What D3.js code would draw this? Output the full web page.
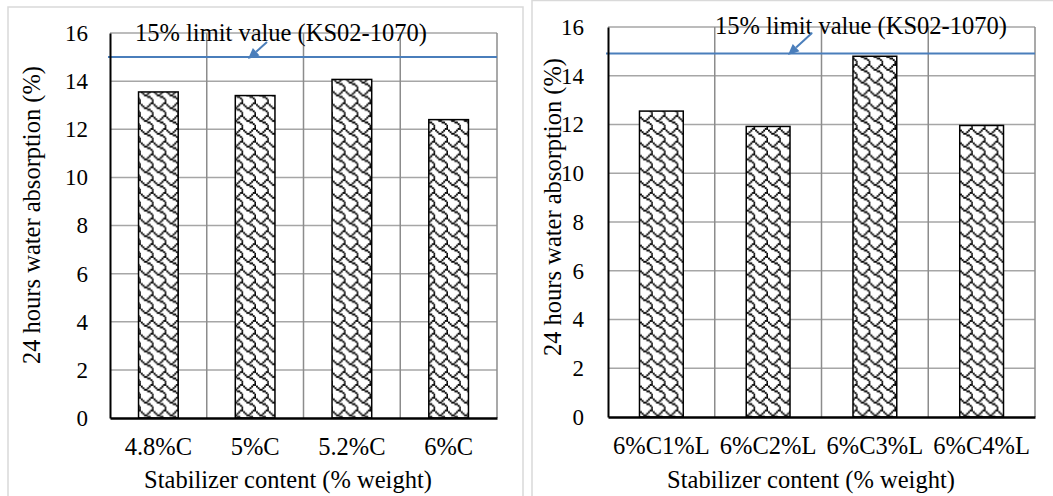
<!DOCTYPE html>
<html>
<head>
<meta charset="utf-8">
<script src="https://cdn.jsdelivr.net/npm/d3@7"></script>
<style>
  body { margin: 0; background: #fff; }
  svg text { font-family: "Liberation Serif", "Times New Roman", serif; fill: #000; }
</style>
</head>
<body>
<svg id="chart" width="1053" height="496"></svg>
<script>
//data
var leftCategories = ["4.8%C", "5%C", "5.2%C", "6%C"];
var leftValues = [13.55, 13.4, 14.07, 12.4];
var rightCategories = ["6%C1%L", "6%C2%L", "6%C3%L", "6%C4%L"];
var rightValues = [12.55, 11.92, 14.8, 11.96];
var yTicks = [0, 2, 4, 6, 8, 10, 12, 14, 16];
var limitValue = 15;
var limitLabel = "15% limit value (KS02-1070)";
var yTitle = "24 hours water absorption (%)";
var xTitle = "Stabilizer content (% weight)";

var serif = "'Liberation Serif', 'Times New Roman', serif";
var svg = d3.select("#chart");

//excel "shingle" hatch, 8x8 bits, drawn a bit bigger than 1:1
var shingleBits = [0x03, 0x84, 0x48, 0x30, 0x0c, 0x02, 0x01, 0x01];
var cell = 1.6;
var pattern = svg.append("defs")
  .append("pattern")
  .attr("id", "shingle")
  .attr("patternUnits", "userSpaceOnUse")
  .attr("width", 8 * cell)
  .attr("height", 8 * cell);
pattern.append("rect").attr("width", 8 * cell).attr("height", 8 * cell).attr("fill", "#fff");
for (var r = 0; r < 8; r++) {
  for (var c = 0; c < 8; c++) {
    if (shingleBits[r] & (0x80 >> c)) {
      pattern.append("rect")
        .attr("x", c * cell)
        .attr("y", r * cell)
        .attr("width", cell + 0.3)
        .attr("height", cell + 0.3)
        .attr("fill", "#000");
    }
  }
}

//draws one of the two panels
function drawChart(o) {
  var g = svg.append("g");

  //outer chart frame
  g.append("rect")
    .attr("x", o.frame[0]).attr("y", o.frame[1])
    .attr("width", o.frame[2]).attr("height", o.frame[3])
    .attr("fill", "none")
    .attr("stroke", "#d9d9d9")
    .attr("stroke-width", 1.5);

  var x = d3.scaleBand().domain(o.categories).range([o.left, o.right]).padding(0);
  var y = d3.scaleLinear().domain([0, 16]).range([o.bottom, o.top]);

  //horizontal gridlines
  g.selectAll(".hgrid")
    .data(yTicks.slice(1))
    .enter().append("line")
    .attr("x1", o.left).attr("x2", o.right)
    .attr("y1", function(d) { return y(d); })
    .attr("y2", function(d) { return y(d); })
    .attr("stroke", "#a6a6a6")
    .attr("stroke-width", 1.5);

  //vertical gridlines at the category edges
  var edges = o.categories.slice(1).map(function(d) { return x(d); }).concat([o.right]);
  g.selectAll(".vgrid")
    .data(edges)
    .enter().append("line")
    .attr("x1", function(d) { return d; })
    .attr("x2", function(d) { return d; })
    .attr("y1", y(16)).attr("y2", y(0))
    .attr("stroke", "#8c8c8c")
    .attr("stroke-width", 1.5);

  //bars
  var barW = x.bandwidth() * 0.41;
  g.selectAll(".bar")
    .data(o.values)
    .enter().append("rect")
    .attr("x", function(d, i) { return x(o.categories[i]) + (x.bandwidth() - barW) / 2; })
    .attr("y", function(d) { return y(d); })
    .attr("width", barW)
    .attr("height", function(d) { return y(0) - y(d); })
    .attr("fill", "url(#shingle)")
    .attr("stroke", "#000")
    .attr("stroke-width", 1.5);

  //limit line
  g.append("line")
    .attr("x1", o.left - 2).attr("x2", o.right)
    .attr("y1", y(limitValue) + o.limitNudge).attr("y2", y(limitValue) + o.limitNudge)
    .attr("stroke", "#4a7ebb")
    .attr("stroke-width", 2);

  //axes
  var yAxis = g.append("g")
    .attr("transform", "translate(" + o.left + ",0)")
    .call(d3.axisLeft(y).tickValues(yTicks).tickSize(0).tickPadding(o.yPad));
  yAxis.attr("font-family", serif);
  yAxis.select(".domain").attr("stroke", "#000").attr("stroke-width", 2);
  yAxis.selectAll("text").attr("font-family", serif).style("font-size", "23px").attr("fill", "#000");

  var xAxis = g.append("g")
    .attr("transform", "translate(0," + o.bottom + ")")
    .call(d3.axisBottom(x).tickSize(0).tickPadding(20));
  xAxis.attr("font-family", serif);
  xAxis.select(".domain").attr("stroke", "#000").attr("stroke-width", 2.5);
  xAxis.selectAll("text").attr("font-family", serif).style("font-size", "24.5px").attr("fill", "#000");

  //axis titles
  g.append("text")
    .attr("transform", "translate(" + o.yTitle[0] + "," + o.yTitle[1] + ") rotate(-90)")
    .attr("text-anchor", "middle")
    .attr("font-family", serif)
    .style("font-size", "24.5px")
    .text(yTitle);
  g.append("text")
    .attr("x", o.xTitle[0]).attr("y", o.xTitle[1])
    .attr("text-anchor", "middle")
    .attr("font-family", serif)
    .style("font-size", "24.5px")
    .text(xTitle);

  //limit label and its arrow
  g.append("text")
    .attr("x", o.label[0]).attr("y", o.label[1])
    .attr("font-family", serif)
    .style("font-size", "24.5px")
    .text(limitLabel);

  var a = o.arrow;
  var ang = Math.atan2(a[3] - a[1], a[2] - a[0]);
  var head = 11, half = 5;
  var bx = a[2] - head * Math.cos(ang), by = a[3] - head * Math.sin(ang);
  g.append("line")
    .attr("x1", a[0]).attr("y1", a[1])
    .attr("x2", bx).attr("y2", by)
    .attr("stroke", "#4a7ebb")
    .attr("stroke-width", 2);
  g.append("path")
    .attr("d", "M" + a[2] + "," + a[3] +
      "L" + (bx + half * Math.sin(ang)) + "," + (by - half * Math.cos(ang)) +
      "L" + (bx - half * Math.sin(ang)) + "," + (by + half * Math.cos(ang)) + "Z")
    .attr("fill", "#4a7ebb");
}

drawChart({
  frame: [8, 7, 515, 520],
  categories: leftCategories, values: leftValues,
  left: 110, right: 497, top: 33, bottom: 418,
  yPad: 22, limitNudge: 0,
  yTitle: [40, 215], xTitle: [288, 488],
  label: [135, 41],
  arrow: [267, 42, 248, 59]
});

drawChart({
  frame: [532, 0.5, 540, 520],
  categories: rightCategories, values: rightValues,
  left: 608, right: 1035, top: 27, bottom: 417,
  yPad: 24, limitNudge: 2,
  yTitle: [561, 207], xTitle: [811, 488],
  label: [715, 34],
  arrow: [812, 33, 788, 55]
});
</script>
</body>
</html>
